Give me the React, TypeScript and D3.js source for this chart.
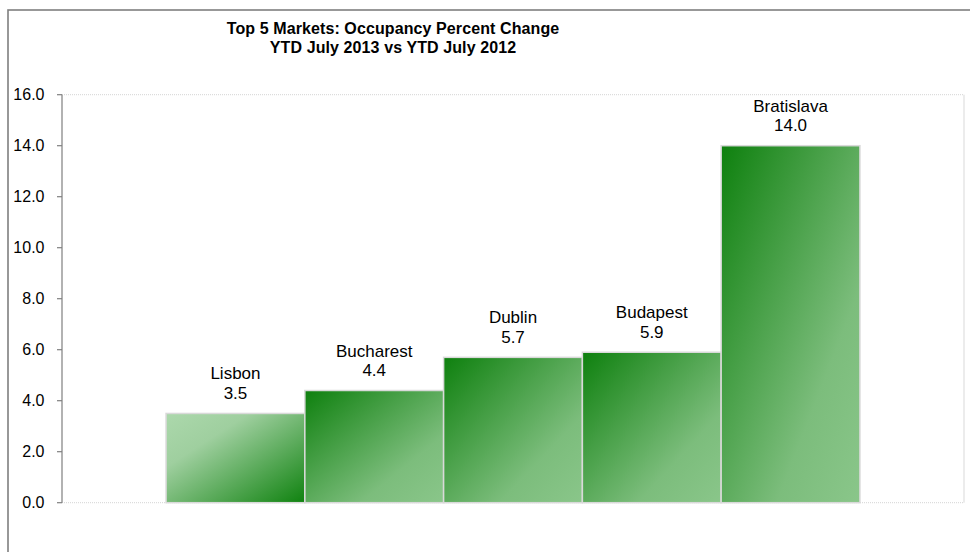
import React from "react";
import * as d3 from "d3";

const categories = ["Lisbon", "Bucharest", "Dublin", "Budapest", "Bratislava"];
const values = [3.5, 4.4, 5.7, 5.9, 14.0];
const yTicks = [0, 2, 4, 6, 8, 10, 12, 14, 16];
const titleLines = ["Top 5 Markets: Occupancy Percent Change", "YTD July 2013 vs YTD July 2012"];

const W = 970;
const H = 552;
const plot = { left: 62, right: 964, top: 94.7, bottom: 502.7 };

export default function App() {
  const x = d3
    .scaleBand<string>()
    .domain(categories)
    .range([plot.left, plot.right])
    .paddingInner(0)
    .paddingOuter(0.75);
  const y = d3.scaleLinear().domain([0, 16]).range([plot.bottom, plot.top]);
  const font = "'Liberation Sans', Arial, sans-serif";

  return (
    <svg
      width={W}
      height={H}
      style={{ position: "absolute", left: 0, top: 0, background: "#fff" }}
      fontFamily={font}
    >
      <defs>
        <linearGradient id="gLight" x1="0" y1="0" x2="1" y2="1">
          <stop offset="0" stopColor="#acd8ac" />
          <stop offset="0.3" stopColor="#9fcf9f" />
          <stop offset="1" stopColor="#0f820f" />
        </linearGradient>
        <linearGradient id="gDark" x1="0" y1="0" x2="1" y2="1">
          <stop offset="0" stopColor="#0e800e" />
          <stop offset="0.7" stopColor="#7cbd7c" />
          <stop offset="1" stopColor="#8ac68a" />
        </linearGradient>
      </defs>
      {/* outer frame */}
      <rect x={8} y={10} width={W + 10} height={H + 10} fill="none" stroke="#7f7f7f" strokeWidth={1.6} />

      {/* title */}
      {titleLines.map((t, i) => (
        <text
          key={i}
          x={393}
          y={34 + i * 19}
          textAnchor="middle"
          fontSize={16}
          fontWeight="bold"
          fill="#000"
          letterSpacing={0.1}
        >
          {t}
        </text>
      ))}

      {/* plot area borders */}
      <line x1={plot.left} x2={plot.right} y1={plot.top} y2={plot.top} stroke="#d4d4d4" strokeDasharray="1,1" />
      <line x1={plot.right} x2={plot.right} y1={plot.top} y2={plot.bottom} stroke="#d9d9d9" />
      <line x1={plot.left} x2={plot.right} y1={plot.bottom} y2={plot.bottom} stroke="#d4d4d4" strokeDasharray="1,1" />

      {/* bars */}
      {categories.map((c, i) => (
        <rect
          key={c}
          x={x(c)!}
          y={y(values[i])}
          width={x.bandwidth()}
          height={y(0) - y(values[i])}
          fill={i === 0 ? "url(#gLight)" : "url(#gDark)"}
          stroke="#d9d9d9"
          strokeWidth={1.5}
        />
      ))}

      {/* labels */}
      {categories.map((c, i) => (
        <g key={c} fontSize={17} fill="#000" textAnchor="middle">
          <text x={x(c)! + x.bandwidth() / 2} y={y(values[i]) - 34}>
            {c}
          </text>
          <text x={x(c)! + x.bandwidth() / 2} y={y(values[i]) - 14.5}>
            {values[i].toFixed(1)}
          </text>
        </g>
      ))}

      {/* y axis */}
      <line x1={plot.left} x2={plot.left} y1={plot.top} y2={plot.bottom} stroke="#7f7f7f" strokeWidth={1.2} />
      {yTicks.map((t) => (
        <g key={t}>
          <line x1={plot.left - 5} x2={plot.left} y1={y(t)} y2={y(t)} stroke="#7f7f7f" strokeWidth={1.2} />
          <text x={44.5} y={y(t) + 5.5} textAnchor="end" fontSize={16} fill="#000">
            {t.toFixed(1)}
          </text>
        </g>
      ))}
    </svg>
  );
}
